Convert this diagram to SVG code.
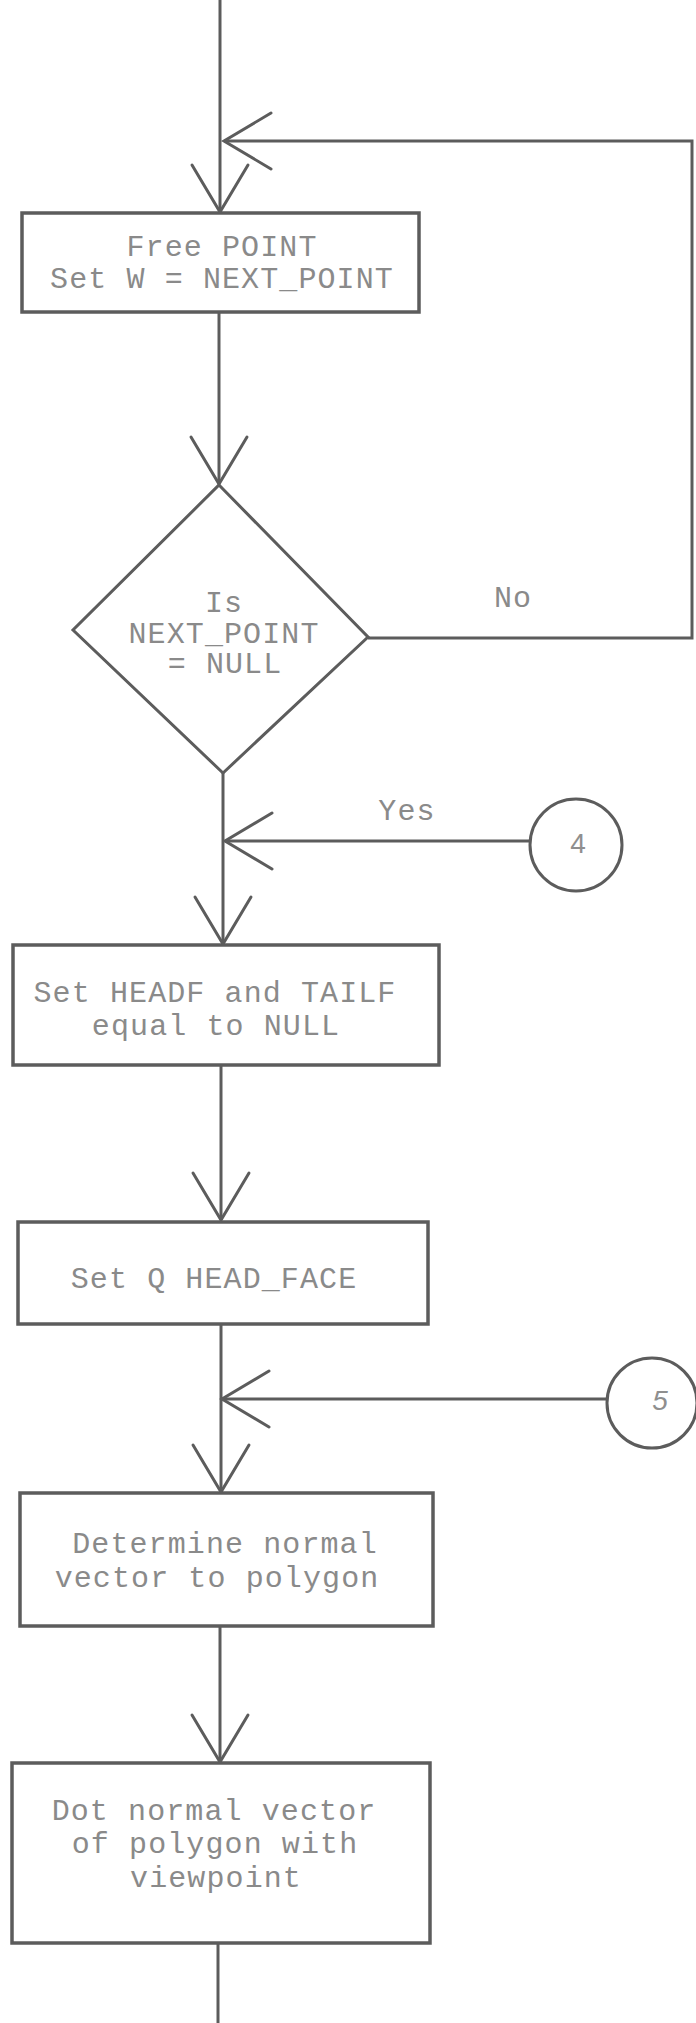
<svg xmlns="http://www.w3.org/2000/svg" width="696" height="2023" viewBox="0 0 696 2023">
<style>
.box{fill:#fff;stroke:#5c5c5c;stroke-width:3.5}
.dec{fill:#fff;stroke:#5c5c5c;stroke-width:3}
.conn{fill:none;stroke:#5c5c5c;stroke-width:3;stroke-linejoin:miter}
.t{font-family:"Liberation Mono","DejaVu Sans Mono",monospace;font-size:30px;letter-spacing:1.1px;fill:#8a8a8a;text-anchor:middle}
.hand{font-family:"Liberation Sans","DejaVu Sans",sans-serif;font-size:28px;fill:#8f8f8f;text-anchor:middle}
.slant{font-style:italic}
</style>
<defs>
<marker id="v" markerUnits="userSpaceOnUse" viewBox="-55 -35 60 70" markerWidth="60" markerHeight="70" refX="0" refY="0" orient="auto" overflow="visible">
<path d="M-47 -28 L0 0 L-47 28" fill="none" stroke="#5c5c5c" stroke-width="3" stroke-linecap="round"/>
</marker>
</defs>
<rect width="696" height="2023" fill="#fff"/>
<g id="connectors">
<path class="conn" d="M220 0 V212" marker-end="url(#v)"/>
<path class="conn" d="M368 638 H692 V141 H224" marker-end="url(#v)"/>
<path class="conn" d="M219 312 V484" marker-end="url(#v)"/>
<path class="conn" d="M223 773 V944" marker-end="url(#v)"/>
<path class="conn" d="M530 841 H225" marker-end="url(#v)"/>
<path class="conn" d="M221 1065 V1220" marker-end="url(#v)"/>
<path class="conn" d="M221 1324 V1492" marker-end="url(#v)"/>
<path class="conn" d="M607 1399 H222" marker-end="url(#v)"/>
<path class="conn" d="M220 1627 V1762" marker-end="url(#v)"/>
<path class="conn" d="M218 1943 V2023"/>
</g>
<g id="free-point">
<rect class="box" x="22" y="213" width="397" height="99"/>
<text class="t" x="222" y="256">Free POINT</text>
<text class="t" x="222" y="288">Set W = NEXT_POINT</text>
</g>
<g id="is-null">
<polygon class="dec" points="219,485 368,637 223,773 73,630"/>
<text class="t" x="224" y="612">Is</text>
<text class="t" x="224" y="643">NEXT_POINT</text>
<text class="t" x="225" y="673">= NULL</text>
</g>
<g id="label-no"><text class="t" x="513" y="607">No</text></g>
<g id="label-yes"><text class="t" x="407" y="820">Yes</text></g>
<g id="connector-4">
<circle class="dec" cx="576" cy="845" r="46"/>
<text class="hand" x="578" y="853">4</text>
</g>
<g id="set-headf">
<rect class="box" x="13" y="945" width="426" height="120"/>
<text class="t" x="215" y="1002">Set HEADF and TAILF</text>
<text class="t" x="216" y="1035">equal to NULL</text>
</g>
<g id="set-q">
<rect class="box" x="18" y="1222" width="410" height="102"/>
<text class="t" x="214" y="1288">Set Q HEAD_FACE</text>
</g>
<g id="connector-5">
<circle class="dec" cx="652" cy="1403" r="45"/>
<text class="hand slant" x="660" y="1410">5</text>
</g>
<g id="determine-normal">
<rect class="box" x="20" y="1493" width="413" height="133"/>
<text class="t" x="225" y="1553">Determine normal</text>
<text class="t" x="217" y="1587">vector to polygon</text>
</g>
<g id="dot-normal">
<rect class="box" x="12" y="1763" width="418" height="180"/>
<text class="t" x="214" y="1820">Dot normal vector</text>
<text class="t" x="215" y="1853">of polygon with</text>
<text class="t" x="216" y="1887">viewpoint</text>
</g>
</svg>
